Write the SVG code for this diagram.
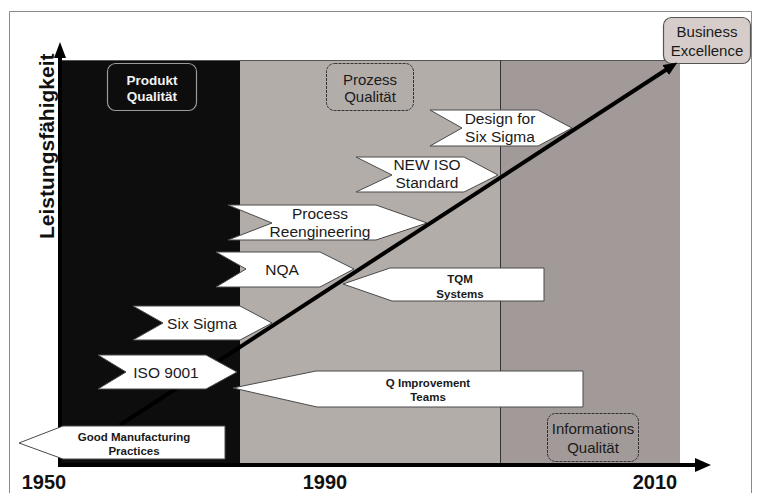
<svg xmlns="http://www.w3.org/2000/svg" width="758" height="493" viewBox="0 0 758 493">
<defs>
<style>
.t{font-family:"Liberation Sans",Arial,sans-serif;fill:#1a1a1a;text-anchor:middle}
.big{font-size:15.5px}
.sm{font-size:11.5px;font-weight:bold}
.yr{font-size:20px;font-weight:bold;fill:#111}
.lab{font-size:15px}
.chev{fill:#ffffff;stroke:#4a4a4a;stroke-width:1}
.ax{stroke:#000;stroke-width:4;fill:none}
</style>
<marker id="ah" markerUnits="userSpaceOnUse" viewBox="0 0 14 12" markerWidth="14" markerHeight="12" refX="1" refY="6" orient="auto">
<path d="M0,0 L14,6 L0,12 z" fill="#000"/>
</marker>
</defs>
<rect x="0" y="0" width="758" height="493" fill="#ffffff"/>
<path d="M9.5,493 V11.5 H751.5 V493" fill="none" stroke="#8a8a8a" stroke-width="1"/>
<g id="panels">
<rect x="60" y="60" width="180" height="403" fill="#0d0d0d"/>
<rect x="240" y="60" width="260" height="403" fill="#b3adaa"/>
<rect x="500" y="60" width="180" height="403" fill="#a29a98"/>
<line x1="60" y1="60.5" x2="680" y2="60.5" stroke="#555" stroke-width="1"/>
<line x1="500.5" y1="60" x2="500.5" y2="463" stroke="#333" stroke-width="1"/>
</g>
<g id="labels">
<g id="produkt">
<rect x="107.5" y="63.5" width="89" height="47" rx="8" fill="#0d0d0d" stroke="#9a9a9a" stroke-width="1.2"/>
<text class="t lab" x="152" y="85" style="fill:#f2f2f2;font-weight:bold;font-size:13.5px">Produkt</text>
<text class="t lab" x="152" y="101" style="fill:#f2f2f2;font-weight:bold;font-size:13.5px">Qualität</text>
</g>
<g id="prozess">
<rect x="326.5" y="63.5" width="87" height="47" rx="8" fill="#b3adaa" stroke="#333" stroke-width="1" stroke-dasharray="3 1"/>
<text class="t lab" x="370" y="85">Prozess</text>
<text class="t lab" x="370" y="102">Qualität</text>
</g>
<g id="business">
<rect x="663.5" y="17.5" width="87" height="46" rx="8" fill="#d6cdca" stroke="#555" stroke-width="1.2"/>
<text class="t lab" x="707" y="37">Business</text>
<text class="t lab" x="707" y="56">Excellence</text>
</g>
<g id="informations">
<rect x="547.5" y="413.5" width="91" height="48" rx="8" fill="#a29a98" stroke="#333" stroke-width="1" stroke-dasharray="3 1"/>
<text class="t lab" x="593" y="434">Informations</text>
<text class="t lab" x="593" y="453">Qualität</text>
</g>
</g>
<g id="qit">
<polygon class="chev" points="233,388 316,371 583,371 583,407 317,407"/>
<text class="t sm" x="428" y="387">Q Improvement</text>
<text class="t sm" x="428" y="401">Teams</text>
</g>
<g id="tqm">
<polygon class="chev" points="343,284 390,268 544,268 544,301 392,301"/>
<text class="t sm" x="460" y="283">TQM</text>
<text class="t sm" x="460" y="298">Systems</text>
</g>
<g id="sixsigma">
<polygon class="chev" points="133,306 240,306 272,323 240,340 133,340 163,323"/>
<text class="t big" x="202" y="329">Six Sigma</text>
</g>
<g id="nqa">
<polygon class="chev" points="216,252 320,252 354,269 320,287 216,287 246,269"/>
<text class="t big" x="282" y="275">NQA</text>
</g>
<g id="reeng">
<polygon class="chev" points="228,205 376,205 427,223 376,240 228,240 272,223"/>
<text class="t big" x="320" y="219">Process</text>
<text class="t big" x="320" y="237">Reengineering</text>
</g>
<g id="newiso">
<polygon class="chev" points="356,157 464,157 498,175 464,192 356,192 392,175"/>
<text class="t big" x="427" y="170">NEW ISO</text>
<text class="t big" x="427" y="188">Standard</text>
</g>
<g id="dfss">
<polygon class="chev" points="430,110 538,110 572,128 538,146 430,146 462,128"/>
<text class="t big" x="500" y="124">Design for</text>
<text class="t big" x="500" y="142">Six Sigma</text>
</g>
<g id="connectors">
<line class="ax" x1="60" y1="465" x2="60" y2="57"/>
<polygon points="60,42 54,58 66,58" fill="#000"/>
<line class="ax" x1="58" y1="465" x2="696" y2="465"/>
<polygon points="711,465 695,458 695,472" fill="#000"/>
<line class="ax" x1="120" y1="425" x2="666.5" y2="69.5" marker-end="url(#ah)"/>
</g>
<g id="iso9001">
<polygon class="chev" points="98,355 206,355 237,372 206,389 98,389 126,372"/>
<text class="t big" x="166" y="378">ISO 9001</text>
</g>
<g id="gmp">
<polygon class="chev" points="19,443 63,426 225,426 225,459 63,459"/>
<text class="t sm" x="134" y="441">Good Manufacturing</text>
<text class="t sm" x="134" y="455">Practices</text>
</g>
<g id="axislabels">
<text class="t" x="0" y="0" transform="translate(54,239) rotate(-90)" style="font-size:21px;font-weight:bold;text-anchor:start;fill:#111">Leistungsfähigkeit</text>
<text class="t yr" x="44" y="489">1950</text>
<text class="t yr" x="325" y="489">1990</text>
<text class="t yr" x="655" y="489">2010</text>
</g>
</svg>
